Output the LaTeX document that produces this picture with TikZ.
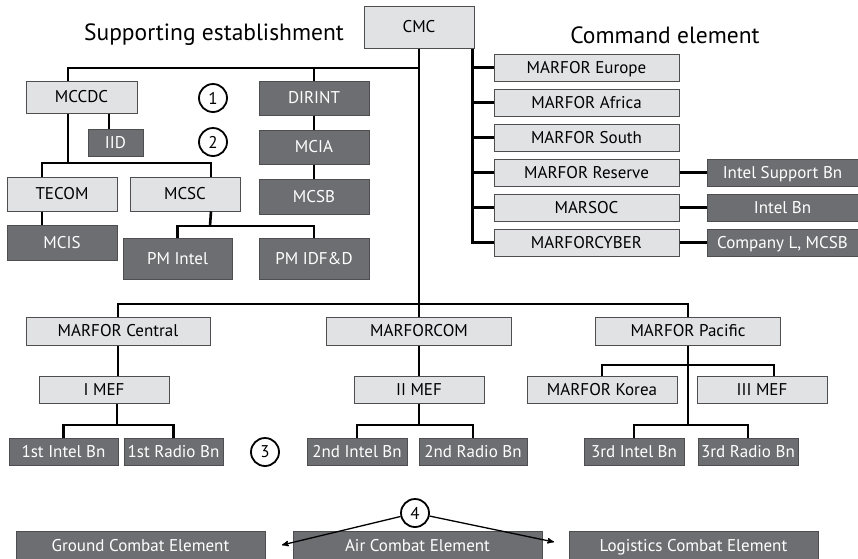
\documentclass[tikz,border=0pt]{standalone}
\usepackage{fontspec}
\setmainfont{PT Sans}
\usetikzlibrary{positioning, arrows}
\definecolor{boxlight}{RGB}{225,226,228}
\definecolor{boxdark}{RGB}{109,110,113}
\definecolor{boxedge}{RGB}{78,78,80}
\tikzset{
unit/.style={rectangle, draw=boxedge, line width=1pt, inner sep=0pt, minimum height=27pt, text height=15.3pt, text depth=3.4pt, font=\fontsize{17}{20}\selectfont}, % every box of the chart
light/.style={unit, fill=boxlight, text=black}, % staff and command boxes
dark/.style={unit, fill=boxdark, text=white}, % intelligence units
link/.style={line width=2.6pt, black}, % the chain of command
callout/.style={circle, draw, line width=1.8pt, fill=white, minimum size=28pt, inner sep=0pt, font=\fontsize{17}{20}\selectfont}, % numbered markers
pointer/.style={->, >=stealth', line width=1.3pt}, % arrows from marker 4
heading/.style={font=\fontsize{23.5}{28}\selectfont}, % the two titles
}
\begin{document}
\begin{tikzpicture}[x=1pt, y=-1pt]
    \path[use as bounding box, clip] (0,0) rectangle (858,558);
    % titles and top
    \node[heading] (supp) at (214,35) {Supporting establishment};
    \node[heading] (cmdel) at (665,35) {Command element};
    \node[light, minimum width=110pt, minimum height=42pt] (cmc) at (419,27) {CMC};
    % supporting establishment
    \node[light, minimum width=111pt, minimum height=32pt] (mccdc) at (81.5,97) {MCCDC};
    \node[dark, minimum width=55pt] (iid) at (115.5,142.5) {IID};
    \node[dark, minimum width=110pt, minimum height=34pt] (dirint) at (314,98) {DIRINT};
    \node[dark, minimum width=110pt, minimum height=34pt, below=14pt of dirint] (mcia) {MCIA};
    \node[dark, minimum width=110pt, minimum height=35pt, below=14pt of mcia] (mcsb) {MCSB};
    \node[light, minimum width=110pt, minimum height=34pt] (tecom) at (62,194) {TECOM};
    \node[light, minimum width=110pt, minimum height=34pt, right=12pt of tecom] (mcsc) {MCSC};
    \node[dark, minimum width=110pt, minimum height=35pt, below=13pt of tecom] (mcis) {MCIS};
    \node[dark, minimum width=109pt, minimum height=41pt] (pmintel) at (177.5,258.5) {PM Intel};
    \node[dark, minimum width=110pt, minimum height=41pt] (pmidfd) at (314,258.5) {PM IDF\&D};
    \node[callout] (one) at (213,98) {1};
    \node[callout] (two) at (213,142) {2};
    % command element
    \node[light, minimum width=185pt] (europe) at (586.5,67.5) {MARFOR Europe};
    \node[light, minimum width=185pt, below=7pt of europe] (africa) {MARFOR Africa};
    \node[light, minimum width=185pt, below=7pt of africa] (south) {MARFOR South};
    \node[light, minimum width=185pt, below=7pt of south] (reserve) {MARFOR Reserve};
    \node[light, minimum width=185pt, below=7pt of reserve] (marsoc) {MARSOC};
    \node[light, minimum width=185pt, below=7pt of marsoc] (cyber) {MARFORCYBER};
    \node[dark, minimum width=151pt, right=27pt of reserve] (intelsup) {Intel Support Bn};
    \node[dark, minimum width=151pt, right=27pt of marsoc] (intelbn) {Intel Bn};
    \node[dark, minimum width=151pt, right=27pt of cyber] (compl) {Company L, MCSB};
    % operating forces
    \node[light, minimum width=184pt, minimum height=28pt] (central) at (118,331) {MARFOR Central};
    \node[light, minimum width=185pt, minimum height=28pt] (marforcom) at (419,331) {MARFORCOM};
    \node[light, minimum width=185pt, minimum height=28pt] (pacific) at (688,331) {MARFOR Pacific};
    \node[light, minimum width=130pt] (imef) at (104,389.5) {I MEF};
    \node[light, minimum width=130pt] (iimef) at (419,389.5) {II MEF};
    \node[light, minimum width=150pt] (korea) at (602,389.5) {MARFOR Korea};
    \node[light, minimum width=130pt] (iiimef) at (762,389.5) {III MEF};
    \node[dark, minimum width=109pt] (intel1) at (63.5,451.5) {1st Intel Bn};
    \node[dark, minimum width=99pt] (radio1) at (173.5,451.5) {1st Radio Bn};
    \node[dark, minimum width=100pt] (intel2) at (357,451.5) {2nd Intel Bn};
    \node[dark, minimum width=108pt] (radio2) at (473,451.5) {2nd Radio Bn};
    \node[dark, minimum width=100pt] (intel3) at (634,451.5) {3rd Intel Bn};
    \node[dark, minimum width=100pt] (radio3) at (748,451.5) {3rd Radio Bn};
    \node[callout] (three) at (265,452) {3};
    % MAGTF elements
    \node[dark, minimum width=249pt, minimum height=30pt] (ground) at (140.5,546) {Ground Combat Element};
    \node[dark, minimum width=249pt, minimum height=30pt] (air) at (417.5,546) {Air Combat Element};
    \node[dark, minimum width=249pt, minimum height=30pt] (logistics) at (693.5,546) {Logistics Combat Element};
    \node[callout] (four) at (415,513) {4};
    % connectors
    \coordinate (supjoin) at (419,68);
    \coordinate (devjoin) at (68,163);
    \coordinate (pmjoin) at (210,226);
    \coordinate (cmdjoin) at ([xshift=-2pt]cmc.south east);
    \coordinate (forcejoin) at (419,304);
    \coordinate (pacjoin) at (688,365);
    \coordinate (bnjoin1) at (117,425);
    \coordinate (bnjoin2) at (419,425);
    \coordinate (bnjoin3) at (688,425);
    \coordinate (gcegap) at (282,545);
    \coordinate (lcegap) at (554,542);
    \draw[link] (cmc) -- (marforcom) (marforcom) -- (iimef) (iimef) -- (bnjoin2);
    \draw[link] ([xshift=-13.5pt]mccdc.north) |- (supjoin);
    \draw[link] (dirint) -- (dirint |- supjoin);
    \draw[link] (dirint) -- (mcia) (mcia) -- (mcsb);
    \draw[link] ([xshift=27.5pt]mccdc.south) -- ([xshift=27.5pt]mccdc.south |- iid.north);
    \draw[link] ([xshift=-13.5pt]mccdc.south) -- (devjoin);
    \draw[link] ([xshift=-20pt]tecom.north) |- (devjoin) -| ([xshift=26pt]mcsc.north);
    \draw[link] ([xshift=-20pt]tecom.south) -- ([xshift=-20pt]mcis.north);
    \draw[link] ([xshift=26pt]mcsc.south) -- (pmjoin);
    \draw[link] (pmintel) |- (pmjoin) -| (pmidfd);
    \draw[link] (cmdjoin) |- (cyber);
    \foreach \unit in {europe, africa, south, reserve, marsoc}
        \draw[link] (\unit) -- (\unit -| cmdjoin);
    \draw[link] (reserve) -- (intelsup) (marsoc) -- (intelbn) (cyber) -- (compl);
    \draw[link] (central) |- (forcejoin) -| (pacific);
    \draw[link] (central) -- (central |- imef.north);
    \draw[link] (korea) |- (pacjoin) -| ([xshift=12pt]iiimef.north);
    \draw[link] (pacific) -- (bnjoin3);
    \draw[link] (imef.south -| bnjoin1) -- (bnjoin1);
    \draw[link] (intel1) |- (bnjoin1) -| (radio1);
    \draw[link] (intel2) |- (bnjoin2) -| (radio2);
    \draw[link] (intel3) |- (bnjoin3) -| (radio3);
    \draw[pointer] (four) -- (gcegap);
    \draw[pointer] (four) -- (lcegap);
\end{tikzpicture}
\end{document}
